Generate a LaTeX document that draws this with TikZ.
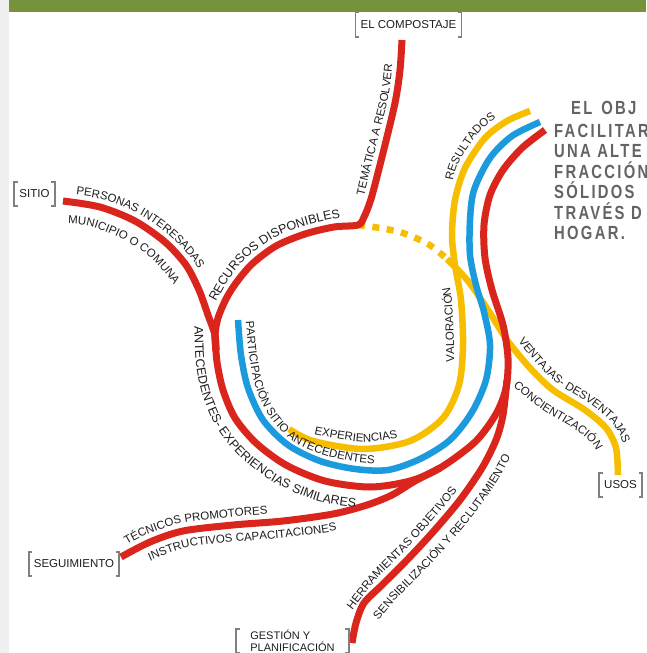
\documentclass[tikz,border=0pt]{standalone}
\usepackage{fontspec}
\setmainfont{Liberation Sans}
\newfontfamily\parafont[FakeStretch=0.78,LetterSpace=12]{Liberation Sans}
\usetikzlibrary{positioning,decorations.text}
\definecolor{linered}{RGB}{218,37,29}
\definecolor{lineblue}{RGB}{27,155,222}
\definecolor{lineyellow}{RGB}{247,190,0}
\definecolor{bandgreen}{RGB}{118,146,58}
\definecolor{stripgray}{RGB}{240,240,240}
\definecolor{labelgray}{RGB}{30,30,30}
\definecolor{bracketgray}{RGB}{128,128,128}
\definecolor{paragray}{RGB}{100,100,100}

\begin{document}
\begin{tikzpicture}[x=1pt,y=-1pt,
    redline/.style={draw=linered,line width=7pt},
    blueline/.style={draw=lineblue,line width=6.5pt},
    yellowline/.style={draw=lineyellow,line width=6.5pt},
    bracketline/.style={draw=bracketgray,line width=1.8pt},
    brackets/.style={text=labelgray,font=\fontsize{11.5}{13}\selectfont,inner xsep=5pt,inner ysep=0pt,minimum height=24pt,
        append after command={\pgfextra{\let\bnode\tikzlastnode
            \draw[bracketline] ([xshift=3.5pt]\bnode.north west) -- (\bnode.north west) -- (\bnode.south west) -- ([xshift=3.5pt]\bnode.south west);
            \draw[bracketline] ([xshift=-3.5pt]\bnode.north east) -- (\bnode.north east) -- (\bnode.south east) -- ([xshift=-3.5pt]\bnode.south east);}}},
    linetext/.style 2 args={decorate,decoration={text along path,text={|\fontsize{#2}{14}\selectfont|#1},text color=labelgray}},
    para/.style={anchor=base west,inner sep=0pt,text=paragray,font=\parafont\bfseries\fontsize{19}{21}\selectfont}]
    \useasboundingbox (0,0) rectangle (646,653);
    \clip (0,0) rectangle (646,653);
    \fill[white] (0,0) rectangle (646,653);
    \fill[stripgray] (0,0) rectangle (9,653);
    \fill[bandgreen] (9,0) rectangle (646,12);

    \coordinate (merge) at (215,335);
    \coordinate (corner) at (358,225);
    \coordinate (cross) at (447,259);
    \coordinate (joinseg) at (440,468);
    \coordinate (joingest) at (507,380);

    \draw[yellowline,dash pattern=on 7pt off 7.5pt] plot[smooth] coordinates {(corner) (380,228) (403,233) (428,244) (cross)};
    \draw[yellowline] plot[smooth] coordinates {(cross) (468,281) (488,310) (507,340) (530,368) (553,390) (585,410) (606,428) (616,448) (618,475)};
    \draw[blueline] plot[smooth] coordinates {(238,320) (241,355) (248,388) (263,420) (288,445) (320,461) (355,469) (388,470) (420,459) (450,440) (472,412) (486,380) (490,345) (484,312) (476,285) (470,255) (470,220) (474,190) (490,158) (512,136) (540,122)};
    \draw[yellowline] plot[smooth] coordinates {(289,429) (313,441) (363,449) (410,441) (443,418) (459,385) (463,345) (461,300) (455,265) (452,235) (455,200) (465,168) (485,138) (507,121) (530,111)};

    \draw[redline] plot[smooth] coordinates {(63,201) (100,207) (135,221) (165,242) (186,265) (199,290) (208,315) (merge) (216,350)};
    \draw[redline] plot[smooth] coordinates {(216,350) (merge) (218,318) (226,299) (236,283) (252,264) (276,246) (305,234) (334,227) (corner) (364,217) (369,205) (373,192) (383,153) (395,103) (400,70) (402,40)};
    \draw[redline] plot[smooth] coordinates {(merge) (217,362) (223,390) (235,418) (256,443) (286,465) (325,481) (370,487) (410,481) (joinseg) (475,442) (496,414) (506,388) (508,358) (503,325) (492,290) (485,258) (484,225) (490,195) (503,170) (522,148) (545,130)};
    \draw[redline] plot[smooth] coordinates {(121,557) (150,542) (183,531) (233,525) (283,521) (333,514) (367,505) (392,495) (415,481) (joinseg)};
    \draw[redline] plot[smooth] coordinates {(352,643) (356,623) (364,603) (382,585) (407,560) (433,532) (460,500) (482,468) (496,440) (503,415) (joingest)};

    \path[linetext={PERSONAS INTERESADAS}{11.5}] plot[smooth] coordinates {(76,195) (103,199.6) (138.8,214) (170.2,236) (192.4,260) (208,287) (218,313)};
    \path[linetext={MUNICIPIO O COMUNA}{11.5}] plot[smooth] coordinates {(68,224) (92,226.5) (125,240.5) (151,258) (169,278) (182,299) (190,320)};
    \path[linetext={RECURSOS DISPONIBLES}{12.5}] plot[smooth] coordinates {(216,302) (229.6,278.2) (246.6,258.2) (272,239) (302.5,226.4) (332.6,219) (350,216) (368,214)};
    \path[linetext={TEMÁTICA A RESOLVER}{11.5}] plot[smooth] coordinates {(364,196) (375,151) (387.5,101) (392,68) (394,20)};
    \path[linetext={ANTECEDENTES- EXPERIENCIAS SIMILARES}{12.5}] plot[smooth] coordinates {(194.5,326) (196.2,365) (203,396.5) (217.2,429) (241.7,458.5) (276,483.5) (319.8,501.4) (370,508) (415.5,501)};
    \path[linetext={PARTICIPACIÓN SITIO ANTECEDENTES}{11.5}] plot[smooth] coordinates {(246,321) (249,354) (255,385) (269,416) (291,440) (321,454) (356,462) (387,463) (416,453)};
    \path[linetext={EXPERIENCIAS}{11.5}] plot[smooth] coordinates {(314,434) (363,442) (407.5,434.5) (437.7,413.4)};
    \path[linetext={RESULTADOS}{11.5}] plot[smooth] coordinates {(453,181) (457.8,164.5) (479,132.6) (502.9,114.1) (526.8,103.6) (545,98)};
    \path[linetext={VALORACIÓN}{11.5}] plot[smooth] coordinates {(454,362) (454,345) (452,301) (446,266) (443,236)};
    \path[linetext={VENTAJAS- DESVENTAJAS}{11.5}] plot[smooth] coordinates {(518,341) (535.9,362.6) (557.8,383.7) (589.6,403.5) (612.2,423) (623.8,446) (626,475) (626,500)};
    \path[linetext={CONCIENTIZACIÓN}{11.5}] plot[smooth] coordinates {(513,386) (541,409) (574,429) (591,443) (597,455) (598,477)};
    \path[linetext={TÉCNICOS PROMOTORES}{11.5}] plot[smooth] coordinates {(127,545) (146.9,534.6) (181.4,523.2) (232.2,517) (282.1,513) (331.5,506.2) (364.5,497.4)};
    \path[linetext={INSTRUCTIVOS CAPACITACIONES}{11.5}] plot[smooth] coordinates {(150,561) (186.4,547.7) (234.7,541.9) (284.9,537.8) (336.2,530.7) (372.3,521.2) (400,508)};
    \path[linetext={HERRAMIENTAS OBJETIVOS}{11.5}] plot[smooth] coordinates {(352.5,610) (376.3,579.3) (401.2,554.5) (427,526.7) (453.7,495.1) (475.1,463.9) (488.6,437)};
    \path[linetext={SENSIBILIZACIÓN Y RECLUTAMIENTO}{11.5}] plot[smooth] coordinates {(378.5,620) (396.2,599.2) (421.4,573.8) (448,545.2) (475.8,512.2) (499.2,478.2) (514.6,447.4) (522.6,418.6)};

    \node[brackets] (compostaje) at (408.5,24.5) {EL COMPOSTAJE};
    \node[brackets] (sitio) at (34.5,194) {SITIO};
    \node[brackets] (usos) at (620.5,485) {USOS};
    \node[brackets] (seguimiento) at (74,564) {SEGUIMIENTO};
    \node[brackets,align=left,font=\fontsize{11}{12}\selectfont,inner xsep=14pt] (gestion) at (292.5,641) {GESTIÓN Y\\PLANIFICACIÓN};

    \node[para] (obj1) at (571,114) {EL\hspace{9pt}OBJ};
    \node[para] (obj2) at (554,137) {FACILITAR};
    \node[para] (obj3) at (554,157.5) {UNA ALTE};
    \node[para] (obj4) at (554,178) {FRACCIÓN};
    \node[para] (obj5) at (554,198.5) {SÓLIDOS};
    \node[para] (obj6) at (554,219) {TRAVÉS D};
    \node[para] (obj7) at (554,239.5) {HOGAR.};
\end{tikzpicture}
\end{document}
